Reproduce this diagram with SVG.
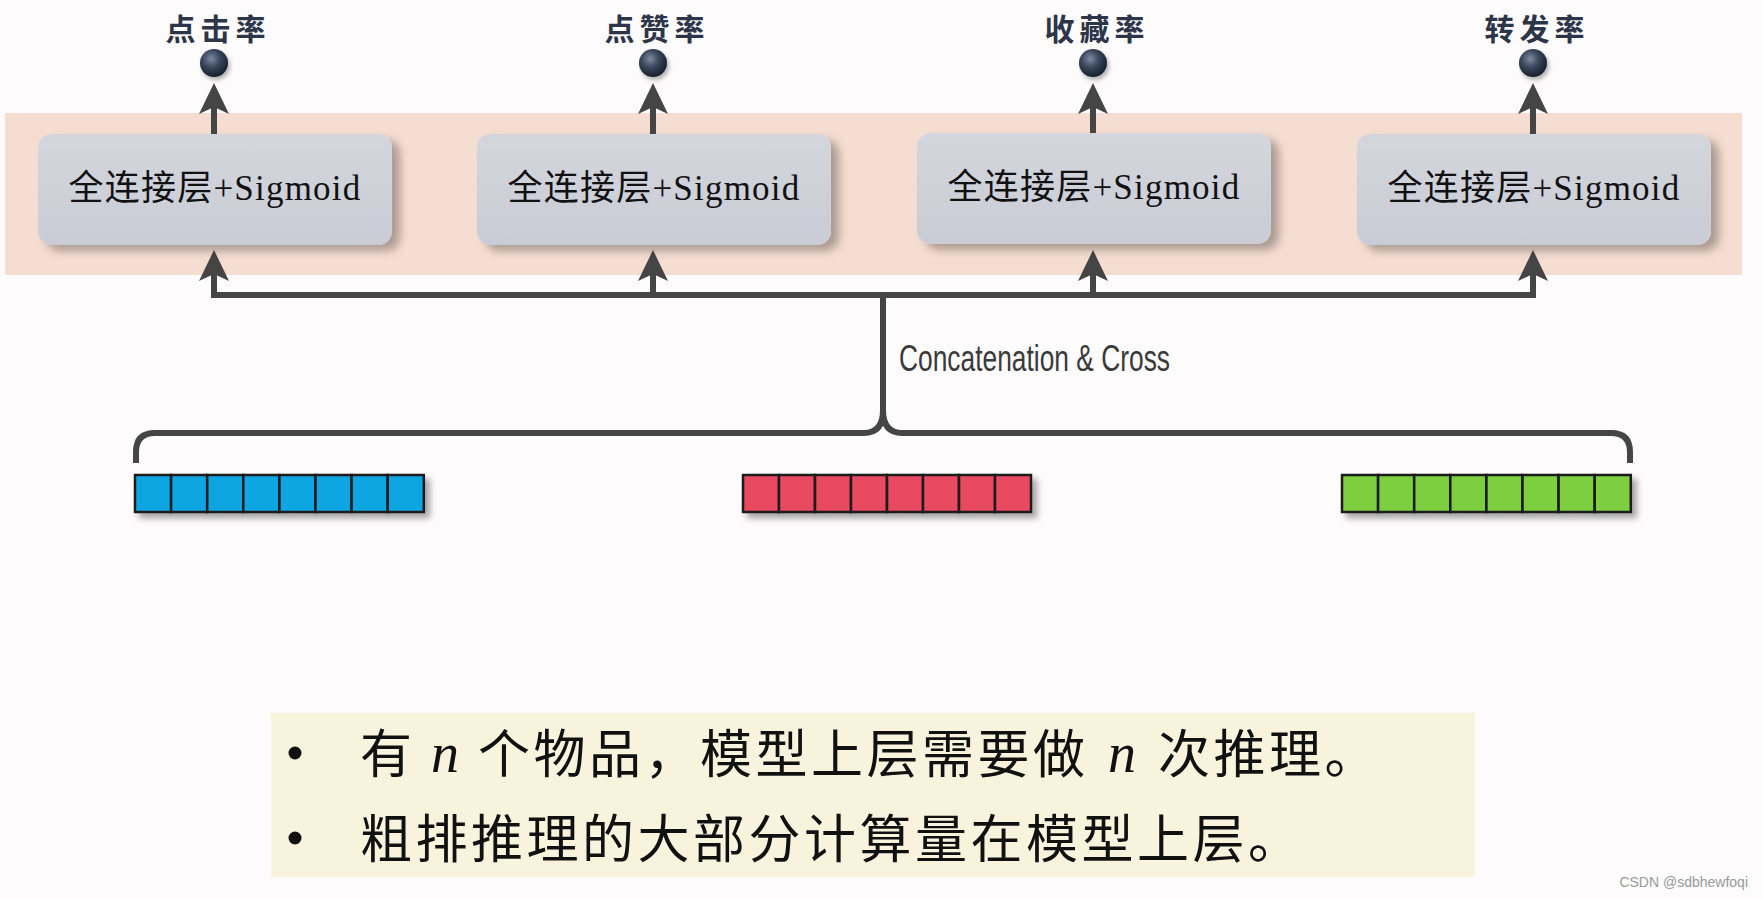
<svg xmlns="http://www.w3.org/2000/svg" width="1763" height="899" viewBox="0 0 1763 899">
<defs>
<style>
.fc{fill:url(#boxg);filter:url(#bshadow)}
.fct{font-family:"Liberation Serif","Noto Sans CJK SC",serif;font-size:35px;fill:#111;text-anchor:middle;letter-spacing:1.2px}
.lbl{font-family:"Noto Sans CJK SC",sans-serif;font-size:30px;font-weight:bold;fill:#2d3548;text-anchor:middle;letter-spacing:5px}
.ball{fill:url(#ballg);filter:url(#sshadow)}
.conn{fill:none;stroke:#454545;stroke-width:6}
.ah{fill:#454545}
.cell{stroke:#1a1a1a;stroke-width:2.5}
.note{font-family:"Noto Sans CJK SC",sans-serif;font-size:52px;fill:#111;letter-spacing:3.5px}
.nv{font-family:"Liberation Serif",serif;font-style:italic;font-size:56px;fill:#111}
.cc{font-family:"Liberation Sans",sans-serif;font-size:36px;fill:#3a3a3a}
</style>
<linearGradient id="boxg" x1="0" y1="0" x2="0" y2="1">
<stop offset="0" stop-color="#d4d6de"/>
<stop offset="1" stop-color="#c9ccd4"/>
</linearGradient>
<radialGradient id="ballg" cx="0.4" cy="0.35" r="0.7">
<stop offset="0" stop-color="#7d8aa0"/>
<stop offset="0.45" stop-color="#3a475c"/>
<stop offset="1" stop-color="#131a27"/>
</radialGradient>
<filter id="bshadow" x="-10%" y="-20%" width="130%" height="150%">
<feDropShadow dx="8" dy="6" stdDeviation="5" flood-color="#000" flood-opacity="0.3"/>
</filter>
<filter id="sshadow" x="-30%" y="-30%" width="180%" height="180%">
<feDropShadow dx="2" dy="3" stdDeviation="2" flood-color="#000" flood-opacity="0.3"/>
</filter>
<filter id="vshadow" x="-5%" y="-30%" width="115%" height="180%">
<feDropShadow dx="5" dy="5" stdDeviation="3" flood-color="#000" flood-opacity="0.35"/>
</filter>
<path id="arrowhead" d="M0,0 L-15,31 L0,24 L15,31 Z"/>
</defs>

<rect x="0" y="0" width="1763" height="899" fill="#fdfbfc"/>
<rect id="band" x="5" y="113" width="1737" height="162" fill="#f6ddd1"/>

<g id="connectors">
<path class="conn" d="M214,134 L214,105"/>
<path class="conn" d="M653,134 L653,105"/>
<path class="conn" d="M1093,134 L1093,105"/>
<path class="conn" d="M1533,134 L1533,105"/>
<use href="#arrowhead" class="ah" x="214" y="83"/>
<use href="#arrowhead" class="ah" x="653" y="83"/>
<use href="#arrowhead" class="ah" x="1093" y="83"/>
<use href="#arrowhead" class="ah" x="1533" y="83"/>
<path class="conn" d="M214,272 L214,295 L1533,295 L1533,272"/>
<path class="conn" d="M653,295 L653,272"/>
<path class="conn" d="M1093,295 L1093,272"/>
<use href="#arrowhead" class="ah" x="214" y="250"/>
<use href="#arrowhead" class="ah" x="653" y="250"/>
<use href="#arrowhead" class="ah" x="1093" y="250"/>
<use href="#arrowhead" class="ah" x="1533" y="250"/>
<path class="conn" d="M883,295 L883,412"/>
<path class="conn" d="M136,463 L136,452 Q136,433 155,433 L864,433 Q883,433 883,410 Q883,433 902,433 L1611,433 Q1630,433 1630,452 L1630,463"/>
<text class="cc" x="899" y="371" textLength="271" lengthAdjust="spacingAndGlyphs">Concatenation &amp; Cross</text>
</g>

<g id="fc1"><rect class="fc" x="38" y="134" width="354" height="111" rx="14"/><text class="fct" x="215" y="200">全连接层+Sigmoid</text></g>
<g id="fc2"><rect class="fc" x="477" y="134" width="354" height="111" rx="14"/><text class="fct" x="654" y="200">全连接层+Sigmoid</text></g>
<g id="fc3"><rect class="fc" x="917" y="133" width="354" height="111" rx="14"/><text class="fct" x="1094" y="199">全连接层+Sigmoid</text></g>
<g id="fc4"><rect class="fc" x="1357" y="134" width="354" height="111" rx="14"/><text class="fct" x="1534" y="200">全连接层+Sigmoid</text></g>

<g id="out1"><circle class="ball" cx="214" cy="63" r="14"/><text class="lbl" x="218" y="40">点击率</text></g>
<g id="out2"><circle class="ball" cx="653" cy="63" r="14"/><text class="lbl" x="657" y="40">点赞率</text></g>
<g id="out3"><circle class="ball" cx="1093" cy="63" r="14"/><text class="lbl" x="1097" y="40">收藏率</text></g>
<g id="out4"><circle class="ball" cx="1533" cy="63" r="14"/><text class="lbl" x="1537" y="40">转发率</text></g>

<g id="vec1" filter="url(#vshadow)" fill="#10a6e3">
<rect class="cell" x="135" y="475" width="36.1" height="37"/><rect class="cell" x="171.1" y="475" width="36.1" height="37"/><rect class="cell" x="207.2" y="475" width="36.1" height="37"/><rect class="cell" x="243.3" y="475" width="36.1" height="37"/><rect class="cell" x="279.4" y="475" width="36.1" height="37"/><rect class="cell" x="315.5" y="475" width="36.1" height="37"/><rect class="cell" x="351.6" y="475" width="36.1" height="37"/><rect class="cell" x="387.7" y="475" width="36.1" height="37"/>
</g>
<g id="vec2" filter="url(#vshadow)" fill="#ea4862">
<rect class="cell" x="743" y="475" width="36" height="37"/><rect class="cell" x="779" y="475" width="36" height="37"/><rect class="cell" x="815" y="475" width="36" height="37"/><rect class="cell" x="851" y="475" width="36" height="37"/><rect class="cell" x="887" y="475" width="36" height="37"/><rect class="cell" x="923" y="475" width="36" height="37"/><rect class="cell" x="959" y="475" width="36" height="37"/><rect class="cell" x="995" y="475" width="36" height="37"/>
</g>
<g id="vec3" filter="url(#vshadow)" fill="#7dcf41">
<rect class="cell" x="1342" y="475" width="36.1" height="37"/><rect class="cell" x="1378.1" y="475" width="36.1" height="37"/><rect class="cell" x="1414.2" y="475" width="36.1" height="37"/><rect class="cell" x="1450.3" y="475" width="36.1" height="37"/><rect class="cell" x="1486.4" y="475" width="36.1" height="37"/><rect class="cell" x="1522.5" y="475" width="36.1" height="37"/><rect class="cell" x="1558.6" y="475" width="36.1" height="37"/><rect class="cell" x="1594.7" y="475" width="36.1" height="37"/>
</g>

<g id="notes">
<rect x="271" y="713" width="1204" height="164" fill="#f8f3dd"/>
<circle cx="295" cy="753" r="6.5" fill="#111"/>
<circle cx="295" cy="838" r="6.5" fill="#111"/>
<text class="note" x="360" y="773">有</text>
<text class="nv" x="431" y="772">n</text>
<text class="note" x="478" y="773">个物品，模型上层需要做</text>
<text class="nv" x="1108" y="772">n</text>
<text class="note" x="1158" y="773">次推理。</text>
<text class="note" x="360" y="858">粗排推理的大部分计算量在模型上层。</text>
</g>

<text x="1748" y="887" font-family="Liberation Sans,sans-serif" font-size="14" fill="#9a9a9a" text-anchor="end">CSDN @sdbhewfoqi</text>
</svg>
